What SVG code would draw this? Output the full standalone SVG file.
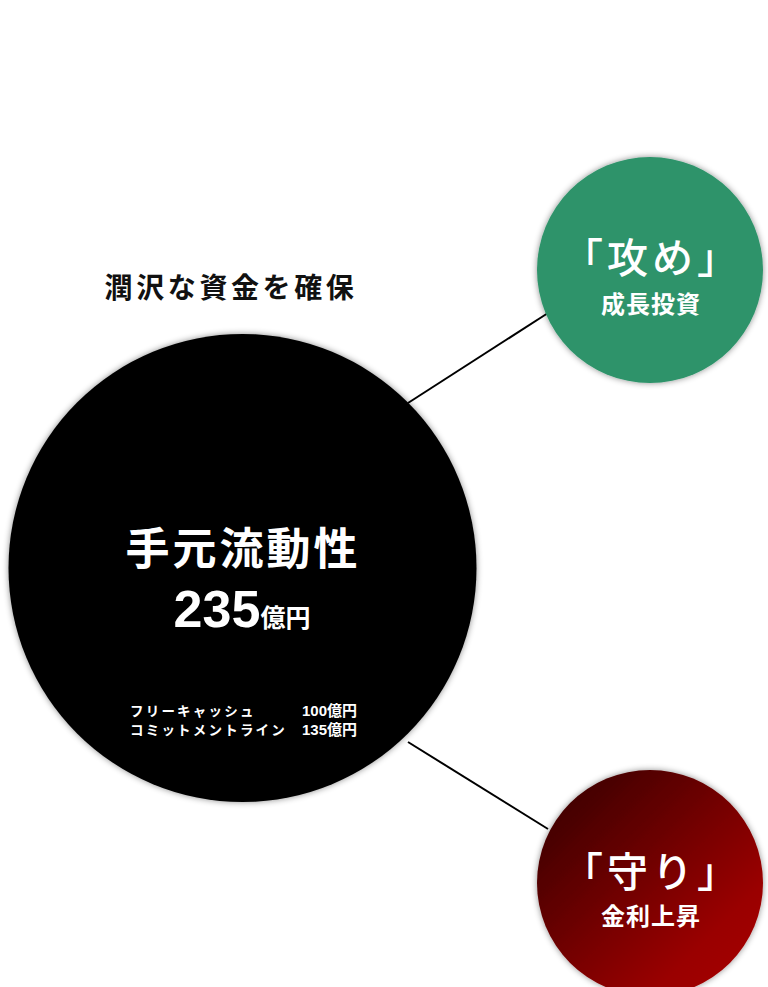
<svg xmlns="http://www.w3.org/2000/svg" width="768" height="987" viewBox="0 0 768 987">
<style>
text{font-family:"Noto Sans CJK JP","Noto Sans",sans-serif;fill:#fff;text-anchor:middle}
.num{font-family:"Liberation Sans",Arial,sans-serif;font-weight:700}
.conn{stroke:#000;stroke-width:2;fill:none}
.big{font-size:41px;font-weight:500;letter-spacing:4px}
.sub{font-size:24px;font-weight:700;letter-spacing:1px}
.kana{text-anchor:start;font-size:13.5px;font-weight:700;letter-spacing:2.2px}
.amt{text-anchor:end;font-size:15px}
</style>
<defs>
<filter id="sh" x="-10%" y="-10%" width="120%" height="120%">
<feDropShadow dx="0" dy="0" stdDeviation="3" flood-color="#000" flood-opacity="0.45"/>
</filter>
<linearGradient id="red" x1="0" y1="0" x2="1" y2="1">
<stop offset="0" stop-color="#300000"/>
<stop offset="0.75" stop-color="#9a0000"/>
<stop offset="1" stop-color="#a80000"/>
</linearGradient>
</defs>
<rect width="768" height="987" fill="#fff"/>
<g id="connectors">
<line class="conn" x1="408" y1="403" x2="548" y2="313"/>
<line class="conn" x1="408" y1="742" x2="548" y2="829"/>
</g>
<g id="heading">
<text x="231" y="298" style="fill:#111;font-size:28px;font-weight:700;letter-spacing:3.6px">潤沢な資金を確保</text>
</g>
<g id="main">
<circle cx="242.5" cy="568" r="234" fill="#000" filter="url(#sh)"/>
<text x="243" y="565" style="font-size:44px;font-weight:700;letter-spacing:3px">手元流動性</text>
<text x="242" y="627"><tspan class="num" style="font-size:52px">235</tspan><tspan style="font-size:25px;font-weight:700">億円</tspan></text>
<text class="kana" x="130" y="716">フリーキャッシュ</text>
<text class="kana" x="130" y="735">コミットメントライン</text>
<text class="amt" x="357" y="716"><tspan class="num">100</tspan><tspan style="font-weight:700">億円</tspan></text>
<text class="amt" x="357" y="735"><tspan class="num">135</tspan><tspan style="font-weight:700">億円</tspan></text>
</g>
<g id="attack">
<circle cx="650" cy="270" r="113" fill="#2e936a" filter="url(#sh)"/>
<text class="big" x="652" y="273">「攻め」</text>
<text class="sub" x="651" y="313">成長投資</text>
</g>
<g id="defense">
<circle cx="650" cy="883" r="113" fill="url(#red)" filter="url(#sh)"/>
<text class="big" x="652" y="887">「守り」</text>
<text class="sub" x="651" y="925">金利上昇</text>
</g>
</svg>
